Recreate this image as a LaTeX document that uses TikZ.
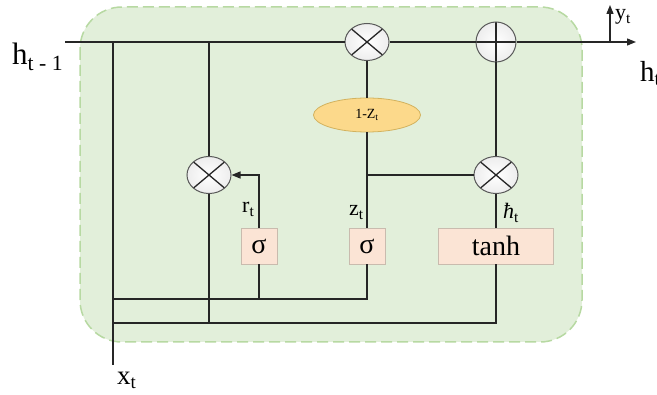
\documentclass[tikz,border=0pt]{standalone}
\usepackage{fontspec}
\setmainfont{Liberation Serif}
\usetikzlibrary{arrows.meta, shapes.geometric}
\definecolor{cellgreen}{HTML}{E2EFDA}
\definecolor{cellrim}{HTML}{B7D9A2}
\definecolor{gatefill}{HTML}{FBE4D5}
\definecolor{gaterim}{HTML}{C9BBAE}
\definecolor{onefill}{HTML}{FCD98B}
\definecolor{onerim}{HTML}{D2B25E}
\definecolor{wire}{HTML}{262626}
\newcommand{\fsz}[1]{\fontsize{#1}{#1}\selectfont}
\tikzset{
  cell/.style = {
    fill=cellgreen, draw=cellrim, line width=1.5pt,
    dash pattern=on 11pt off 5pt, rounded corners=42pt
  },
  wre/.style  = {wire, line width=1.3pt},
  tip/.style  = {-{Triangle[length=9pt,width=7pt]}, wire, line width=1.3pt},
  mul/.style  = {
    ellipse, draw=gray!70!black, line width=1pt,
    inner color=white, outer color=gray!14,
    minimum width=44pt, minimum height=37pt, inner sep=0pt,
    path picture={
      \draw[wire, line width=1.3pt]
        (path picture bounding box.north west) -- (path picture bounding box.south east)
        (path picture bounding box.south west) -- (path picture bounding box.north east);
    }
  },
  addc/.style = {
    circle, draw=gray!70!black, line width=1pt,
    inner color=white, outer color=gray!14,
    minimum size=40pt, inner sep=0pt,
    path picture={
      \draw[wire, line width=1.3pt]
        (path picture bounding box.north) -- (path picture bounding box.south)
        (path picture bounding box.west) -- (path picture bounding box.east);
    }
  },
  gate/.style = {
    rectangle, fill=gatefill, draw=gaterim, line width=0.8pt,
    minimum width=36pt, minimum height=36pt, inner sep=0pt,
    font=\fsz{28}
  },
  onez/.style = {
    ellipse, fill=onefill, draw=onerim, line width=0.8pt,
    minimum width=107pt, minimum height=34pt, inner sep=0pt,
    font=\fsz{14}
  },
  lbl/.style  = {anchor=base west, inner sep=0pt}
}

\begin{document}
\begin{tikzpicture}[x=1pt, y=-1pt]
  \useasboundingbox (0,0) rectangle (657,395);

  %% Cell background
  \draw[cell] (80,7) rectangle (582,342);

  %% Operators
  \node[mul]  (mulz) at (367, 42) {};
  \node[addc] (add)  at (496, 42) {};
  \node[mul]  (mulr) at (209,175) {};
  \node[mul]  (mulh) at (496,175) {};
  \node[onez] (one)  at (367,115) {1-Z\textsubscript{t}};

  %% Gates
  \node[gate] (sigr) at (259,246) {σ};
  \node[gate] (sigz) at (367,246) {σ};
  \node[gate, minimum width=115pt] (tanh) at (496,246) {tanh};

  %% Wire ends and junctions
  \coordinate (hin)  at ( 65, 42);
  \coordinate (hout) at (636, 42);
  \coordinate (ht1)  at (113, 42);
  \coordinate (ht2)  at (209, 42);
  \coordinate (xin)  at (113,365);
  \coordinate (b1)   at (113,299);
  \coordinate (b2)   at (113,323);
  \coordinate (yb)   at (610, 42);
  \coordinate (ytop) at (610,  5);
  \coordinate (jz)   at (one |- mulh);

  %% Hidden state line
  \draw[wre] (hin) -- (mulz);
  \draw[wre] (mulz) -- (add);
  \draw[tip] (add) -- (hout);
  \draw[tip] (yb) -- (ytop);

  %% Inputs
  \draw[wre] (ht1) -- (xin);
  \draw[wre] (ht2) -- (mulr);
  \draw[wre] (mulr) -- (mulr |- b2);
  \draw[wre] (b1) -| (sigz);
  \draw[wre] (sigr) -- (sigr |- b1);
  \draw[wre] (b2) -| (tanh);

  %% Gate outputs
  \draw[tip] (sigr) |- (mulr);
  \draw[wre] (mulz) -- (one);
  \draw[wre] (one) -- (sigz);
  \draw[wre] (jz) -- (mulh);
  \draw[wre] (add) -- (mulh);
  \draw[wre] (mulh) -- (tanh);

  %% Labels
  \node[lbl] (lhin)  at ( 12, 65) {\fsz{31}h\textsubscript{t - 1}};
  \node[lbl] (lhout) at (640, 82) {\fsz{29}h\textsubscript{t}};
  \node[lbl] (ly)    at (615, 20) {\fsz{22}y\textsubscript{t}};
  \node[lbl] (lx)    at (117,385) {\fsz{27}x\textsubscript{t}};
  \node[lbl] (lr)    at (242,213) {\fsz{22}r\textsubscript{t}};
  \node[lbl] (lz)    at (349,216) {\fsz{22}z\textsubscript{t}};
  \node[lbl] (lh)    at (503,219) {\fsz{22}\textit{ħ}\textsubscript{t}};
\end{tikzpicture}
\end{document}
